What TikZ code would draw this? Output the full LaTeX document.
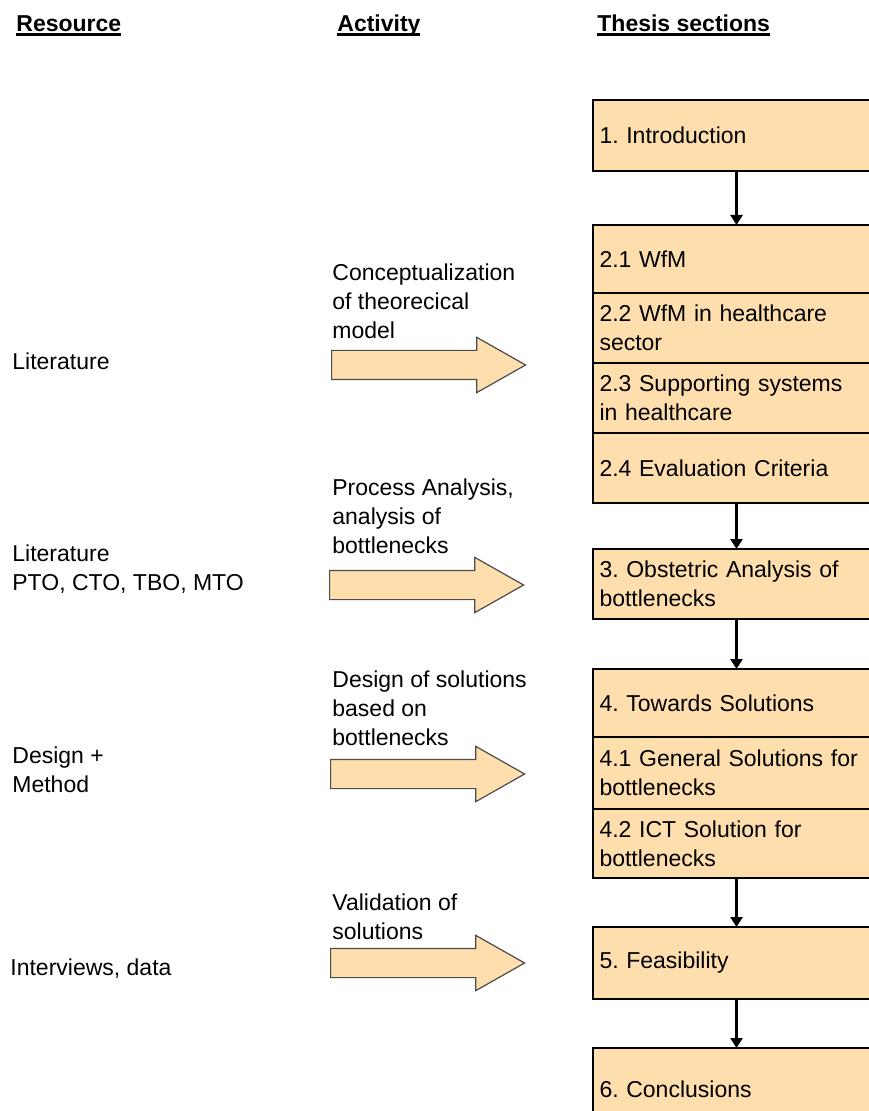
\documentclass[tikz,border=0pt]{standalone}
\usepackage{fontspec}
\setmainfont{Liberation Sans}
\usetikzlibrary{arrows.meta,shapes.arrows}
\definecolor{secfill}{RGB}{255,222,173}
\newcommand\hdul[1]{\setbox0\hbox{#1}\rlap{\rule[-1.8pt]{\wd0}{1.2pt}}\box0}
\frenchspacing

\begin{document}
\begin{tikzpicture}[x=0.5pt,y=-0.5pt,
  every node/.style={font=\fontsize{11.5pt}{14.5pt}\selectfont},
  head/.style={anchor=base west, inner sep=0pt, font=\fontsize{11.5pt}{14pt}\selectfont\bfseries},
  txt/.style={anchor=base west, inner sep=0pt, align=left},
  sec/.style={draw=black, line width=1.3pt, fill=secfill, anchor=north west, minimum width=143.5pt, text width=137pt, inner xsep=3.25pt, inner ysep=2pt, align=left, outer sep=0pt},
  bigarrow/.style={shape=single arrow, anchor=tail, draw=black!70, line width=0.6pt, fill=secfill, inner xsep=0pt, inner ysep=7pt, minimum height=97pt, single arrow head extend=6.5pt, single arrow tip angle=59},
  flow/.style={-{Triangle[width=6pt,length=5pt]}, line width=1.2pt}]
\useasboundingbox (0,0) rectangle (868,1111);

% column headers
\node[head] (h1) at (16,32) {\hdul{Resource}};
\node[head] (h2) at (337,32) {\hdul{Activity}};
\node[head] (h3) at (597,32) {\hdul{Thesis sections}};

% thesis sections
\node[sec, minimum height=35.5pt] (s1) at (593,100) {1. Introduction};
\node[sec, minimum height=34pt] (s21) at (593,225) {2.1 WfM};
\node[sec, minimum height=35pt] (s22) at (593,293) {2.2 WfM in healthcare\\sector};
\node[sec, minimum height=35pt] (s23) at (593,363) {2.3 Supporting systems\\in healthcare};
\node[sec, minimum height=35pt] (s24) at (593,433) {2.4 Evaluation Criteria};
\node[sec, minimum height=35pt] (s3) at (593,549) {3. Obstetric Analysis of\\bottlenecks};
\node[sec, minimum height=34pt] (s4) at (593,669) {4. Towards Solutions};
\node[sec, minimum height=36pt] (s41) at (593,737) {4.1 General Solutions for\\bottlenecks};
\node[sec, minimum height=34.5pt] (s42) at (593,809) {4.2 ICT Solution for\\bottlenecks};
\node[sec, minimum height=36pt] (s5) at (593,927) {5. Feasibility};
\node[sec, minimum height=41pt] (s6) at (593,1048) {6. Conclusions};

\draw[flow] (s1.south) -- (s21.north);
\draw[flow] (s24.south) -- (s3.north);
\draw[flow] (s3.south) -- (s4.north);
\draw[flow] (s42.south) -- (s5.north);
\draw[flow] (s5.south) -- (s6.north);

% activities
\node[bigarrow] (a1) at (331,365) {};
\node[bigarrow] (a2) at (329,585) {};
\node[bigarrow] (a3) at (330,774) {};
\node[bigarrow] (a4) at (330,963) {};
\node[txt] (t1) at (332,339) {Conceptualization\\of theorecical\\model};
\node[txt] (t2) at (332,553) {Process Analysis,\\analysis of\\bottlenecks};
\node[txt] (t3) at (332,745) {Design of solutions\\based on\\bottlenecks};
\node[txt] (t4) at (332,939) {Validation of\\solutions};

% resources
\node[txt] (r1) at (12,370) {Literature};
\node[txt] (r2) at (12,590) {Literature\\PTO, CTO, TBO, MTO};
\node[txt] (r3) at (12,792) {Design +\\Method};
\node[txt] (r4) at (10,975) {Interviews, data};
\end{tikzpicture}
\end{document}
